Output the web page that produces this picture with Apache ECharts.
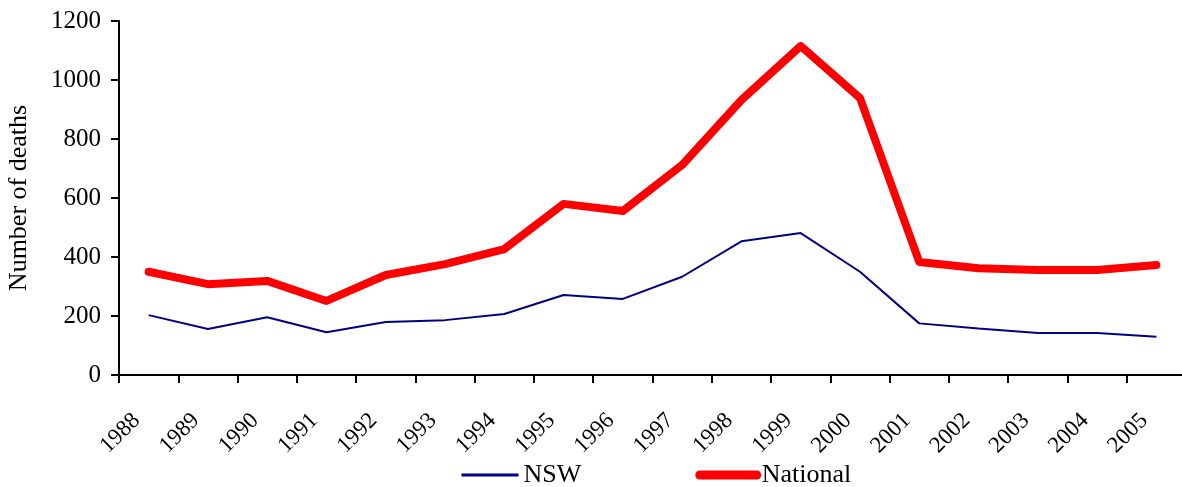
<!DOCTYPE html>
<html>
<head>
<meta charset="utf-8">
<script src="https://cdn.jsdelivr.net/npm/echarts@6/dist/echarts.min.js"></script>
<style>
  html, body { margin: 0; padding: 0; background: #fff; }
  #chart { width: 1182px; height: 487px; }
</style>
</head>
<body>
<div id="chart"></div>
<script>
// categories and values
var years = ['1988','1989','1990','1991','1992','1993','1994','1995','1996',
             '1997','1998','1999','2000','2001','2002','2003','2004','2005'];
var nsw = [203, 156, 196, 145, 180, 186, 207, 271, 258, 333, 453, 481, 350, 175, 158, 142, 142, 130];
var national = [350, 308, 319, 251, 339, 376, 427, 580, 556, 712, 932, 1115, 939, 383, 362, 356, 356, 373];
var yTicks = [0, 200, 400, 600, 800, 1000, 1200];

var font = '"Liberation Serif", "DejaVu Serif", serif';

var chart = echarts.init(document.getElementById('chart'));

var option = {
  animation: false,
  backgroundColor: '#fff',
  textStyle: { fontFamily: font, color: '#000' },
  grid: {
    left: 119,
    right: -4,
    top: 21,
    bottom: 112,
    outerBoundsMode: 'none'
  },
  legend: {
    top: 457,
    left: 455,
    padding: 5,
    itemWidth: 57,
    itemHeight: 24,
    itemGap: 114,
    itemStyle: { opacity: 0 },
    textStyle: { fontFamily: font, fontSize: 26, color: '#000' },
    data: [
      { name: 'NSW', lineStyle: { width: 3 } },
      { name: 'National', lineStyle: { width: 9, cap: 'round' } }
    ]
  },
  xAxis: {
    type: 'category',
    data: years,
    boundaryGap: true,
    axisLine: { lineStyle: { color: '#000', width: 2 } },
    axisTick: { show: true, length: 8, inside: false, lineStyle: { color: '#000', width: 2 } },
    axisLabel: {
      rotate: 45,
      interval: 0,
      margin: 30,
      padding: [0, 17, 0, 0],
      fontFamily: font,
      fontSize: 23,
      color: '#000'
    },
    splitLine: { show: false }
  },
  yAxis: {
    type: 'value',
    min: yTicks[0],
    max: yTicks[yTicks.length - 1],
    interval: 200,
    name: 'Number of deaths',
    nameLocation: 'middle',
    nameGap: 87,
    nameTextStyle: { fontFamily: font, fontSize: 26, color: '#000' },
    axisLine: { show: true, lineStyle: { color: '#000', width: 2 } },
    axisTick: { show: true, length: 8, lineStyle: { color: '#000', width: 2 } },
    axisLabel: {
      fontFamily: font, fontSize: 25, color: '#000', margin: 18,
      formatter: function (v) { return String(v); }
    },
    splitLine: { show: false }
  },
  series: [
    {
      name: 'NSW',
      type: 'line',
      data: nsw,
      symbol: 'none',
      lineStyle: { color: '#000080', width: 2 },
      itemStyle: { color: '#000080' }
    },
    {
      name: 'National',
      type: 'line',
      data: national,
      symbol: 'none',
      lineStyle: { color: '#ff0000', width: 8, cap: 'round', join: 'round' },
      itemStyle: { color: '#ff0000' }
    }
  ]
};

chart.setOption(option);
</script>
</body>
</html>
